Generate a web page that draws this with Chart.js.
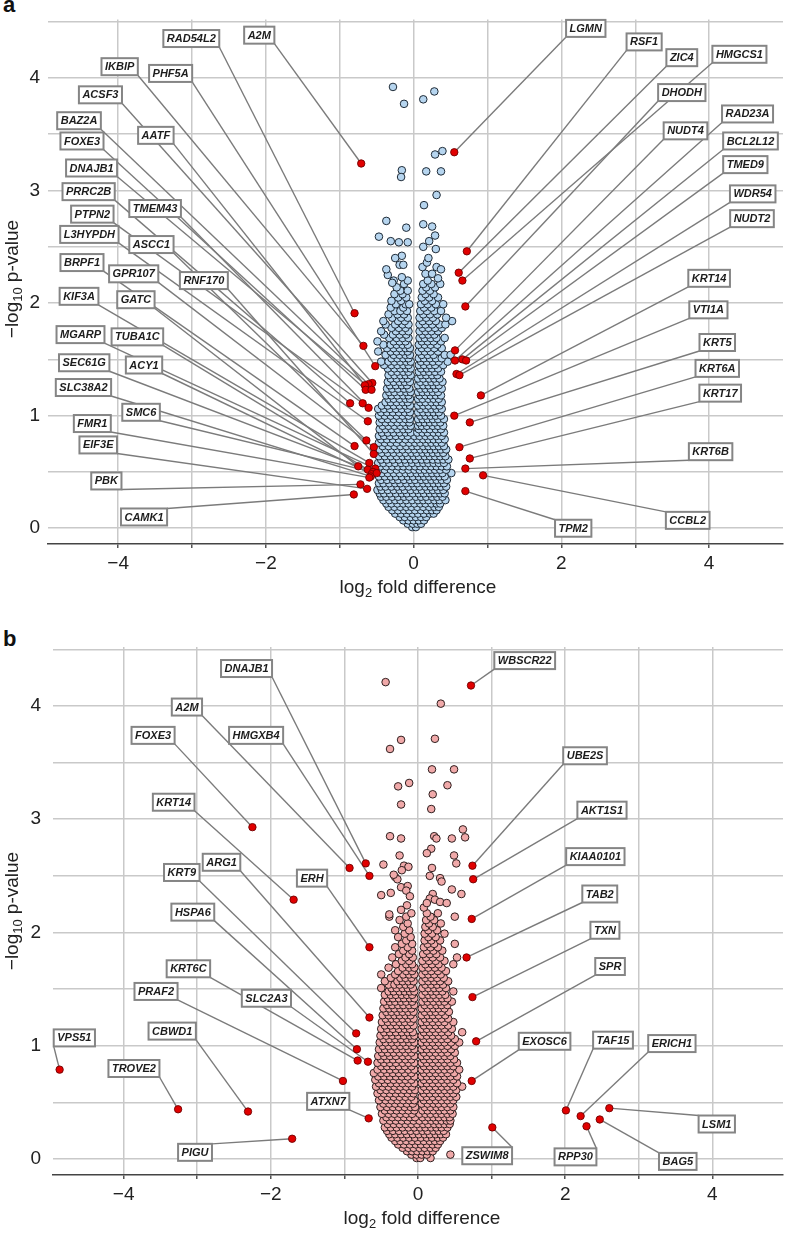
<!DOCTYPE html>
<html>
<head>
<meta charset="utf-8">
<script src="https://cdn.jsdelivr.net/npm/chart.js@4.4.1/dist/chart.umd.min.js"></script>
<style>
  body { margin: 0; background: #fff; width: 788px; height: 1233px; position: relative; overflow: hidden;
         font-family: "Liberation Sans", Arial, sans-serif; color: #222; }
  .panel { position: absolute; left: 0; }
  .tag { position: absolute; left: 3px; font-weight: bold; font-size: 22px; line-height: 22px; color: #111; }
  .xt { position: absolute; width: 220px; text-align: center; font-size: 19px; line-height: 19px; white-space: nowrap; }
  .yt { position: absolute; width: 220px; height: 20px; text-align: center; font-size: 19px; line-height: 20px;
        white-space: nowrap; transform: rotate(-90deg); }
  sub { font-size: 0.68em; vertical-align: -0.3em; line-height: 0; }
</style>
</head>
<body>
<div class="tag" style="top:-6px">a</div>
<div class="tag" style="top:628px">b</div>
<div class="panel" style="top:0"><canvas id="volA" width="788" height="600"></canvas></div>
<div class="panel" style="top:620px"><canvas id="volB" width="788" height="613"></canvas></div>
<div class="yt" style="left:-98px;top:269px">&minus;log<sub>10</sub> p-value</div>
<div class="yt" style="left:-98px;top:901px">&minus;log<sub>10</sub> p-value</div>
<div class="xt" style="left:308px;top:577px">log<sub>2</sub> fold difference</div>
<div class="xt" style="left:312px;top:1208px">log<sub>2</sub> fold difference</div>
<script>
// axis ticks
const xTicks = [-4, -3, -2, -1, 0, 1, 2, 3, 4];
const yTicks = [0, 0.5, 1, 1.5, 2, 2.5, 3, 3.5, 4, 4.5];

// ---- panel a: labelled genes (log2 fold, -log10 p) and where their boxes sit
const namesA = ['A2M','RAD54L2','IKBIP','PHF5A','ACSF3','BAZ2A','AATF','FOXE3','DNAJB1','PRRC2B',
  'TMEM43','PTPN2','L3HYPDH','ASCC1','BRPF1','GPR107','RNF170','KIF3A','GATC','MGARP',
  'TUBA1C','SEC61G','ACY1','SLC38A2','SMC6','FMR1','EIF3E','PBK','CAMK1',
  'LGMN','RSF1','ZIC4','HMGCS1','DHODH','NUDT4','RAD23A','BCL2L12','TMED9','WDR54',
  'NUDT2','KRT14','VTI1A','KRT5','KRT6A','KRT17','KRT6B','CCBL2','TPM2'];
const fcA = [-0.71,-0.80,-0.68,-0.52,-0.56,-0.61,-0.66,-0.65,-0.57,-0.86,
  -0.61,-0.69,-0.62,-0.64,-0.80,-0.54,-0.54,-0.60,-0.75,-0.52,
  -0.62,-0.55,-0.57,-0.58,-0.50,-0.60,-0.63,-0.72,-0.81,
  0.55,0.72,0.61,0.66,0.70,0.56,0.56,0.66,0.71,0.58,
  0.62,0.91,0.55,0.76,0.62,0.76,0.70,0.94,0.70];
const pvA = [3.24,1.91,1.62,1.44,1.29,1.28,1.27,1.23,1.23,1.11,
  1.07,1.11,0.95,0.78,0.73,0.72,0.66,0.58,0.55,0.53,
  0.52,0.50,0.48,0.46,0.49,0.45,0.35,0.39,0.30,
  3.34,2.46,2.27,2.20,1.97,1.58,1.49,1.50,1.49,1.37,
  1.36,1.18,1.00,0.94,0.72,0.62,0.53,0.47,0.33];
const boxXA = [-2.09,-3.01,-3.98,-3.29,-4.24,-4.53,-3.49,-4.49,-4.36,-4.40,
  -3.50,-4.35,-4.39,-3.55,-4.49,-3.79,-2.84,-4.53,-3.76,-4.51,
  -3.74,-4.46,-3.65,-4.47,-3.69,-4.35,-4.27,-4.16,-3.65,
  2.33,3.12,3.63,4.41,3.63,3.68,4.52,4.56,4.49,4.59,
  4.58,4.00,3.99,4.11,4.11,4.15,4.02,3.71,2.16];
const boxYA = [4.38,4.35,4.10,4.04,3.85,3.62,3.49,3.44,3.20,2.99,
  2.84,2.79,2.61,2.52,2.36,2.26,2.20,2.06,2.03,1.72,
  1.70,1.47,1.45,1.25,1.03,0.93,0.74,0.42,0.10,
  4.44,4.32,4.18,4.21,3.87,3.53,3.68,3.44,3.23,2.97,
  2.75,2.22,1.94,1.65,1.42,1.20,0.68,0.07,0.00];

// panel a: all other proteins, one row per -log10 p level: [y, x, x, ...]
const cloudA = [
  [0.01, -0.02, 0.03],
  [0.04, -0.08, -0.01, 0.05, 0.10],
  [0.07, -0.14, -0.07, 0.00, 0.07, 0.14],
  [0.10, -0.19, -0.12, -0.04, 0.03, 0.10, 0.17],
  [0.13, -0.25, -0.17, -0.09, -0.01, 0.06, 0.14, 0.22, 0.27],
  [0.16, -0.29, -0.21, -0.13, -0.06, 0.02, 0.10, 0.18, 0.25, 0.31],
  [0.19, -0.34, -0.26, -0.18, -0.10, -0.03, 0.05, 0.13, 0.21, 0.28, 0.34],
  [0.22, -0.37, -0.30, -0.22, -0.14, -0.07, 0.01, 0.09, 0.16, 0.24, 0.31, 0.36],
  [0.25, -0.41, -0.33, -0.25, -0.18, -0.10, -0.02, 0.06, 0.13, 0.20, 0.28, 0.35, 0.43],
  [0.28, -0.44, -0.37, -0.29, -0.21, -0.13, -0.06, 0.03, 0.10, 0.17, 0.25, 0.32, 0.39],
  [0.31, -0.46, -0.40, -0.32, -0.24, -0.16, -0.09, -0.01, 0.07, 0.14, 0.22, 0.29, 0.36, 0.42],
  [0.34, -0.49, -0.43, -0.35, -0.27, -0.19, -0.12, -0.04, 0.04, 0.11, 0.19, 0.26, 0.33, 0.40],
  [0.37, -0.45, -0.38, -0.30, -0.22, -0.15, -0.07, 0.01, 0.08, 0.16, 0.23, 0.30, 0.37, 0.44],
  [0.40, -0.47, -0.41, -0.33, -0.25, -0.18, -0.10, -0.02, 0.05, 0.13, 0.20, 0.27, 0.34, 0.41],
  [0.43, -0.44, -0.36, -0.28, -0.21, -0.13, -0.05, 0.02, 0.10, 0.17, 0.24, 0.31, 0.38, 0.45],
  [0.46, -0.47, -0.39, -0.31, -0.24, -0.16, -0.08, -0.01, 0.07, 0.14, 0.21, 0.28, 0.35, 0.42],
  [0.49, -0.43, -0.35, -0.27, -0.19, -0.11, -0.04, 0.04, 0.11, 0.18, 0.25, 0.32, 0.39, 0.51],
  [0.52, -0.47, -0.39, -0.31, -0.23, -0.15, -0.07, 0.01, 0.08, 0.15, 0.22, 0.29, 0.36, 0.44],
  [0.55, -0.45, -0.37, -0.29, -0.21, -0.14, -0.06, 0.02, 0.09, 0.17, 0.24, 0.31, 0.38, 0.45],
  [0.58, -0.48, -0.41, -0.33, -0.25, -0.17, -0.10, -0.02, 0.06, 0.13, 0.20, 0.27, 0.34, 0.41],
  [0.61, -0.44, -0.36, -0.28, -0.20, -0.12, -0.04, 0.03, 0.11, 0.18, 0.26, 0.33, 0.40, 0.47],
  [0.64, -0.47, -0.39, -0.31, -0.23, -0.15, -0.08, 0.00, 0.07, 0.15, 0.22, 0.29, 0.36, 0.43],
  [0.67, -0.43, -0.35, -0.27, -0.19, -0.11, -0.03, 0.04, 0.12, 0.19, 0.26, 0.33, 0.40],
  [0.70, -0.46, -0.38, -0.30, -0.22, -0.15, -0.07, 0.01, 0.09, 0.16, 0.23, 0.30, 0.37, 0.44],
  [0.73, -0.42, -0.34, -0.26, -0.18, -0.10, -0.02, 0.05, 0.13, 0.20, 0.27, 0.34, 0.41],
  [0.76, -0.47, -0.39, -0.31, -0.23, -0.14, -0.06, 0.02, 0.09, 0.17, 0.24, 0.31, 0.38],
  [0.79, -0.44, -0.36, -0.28, -0.20, -0.11, -0.03, 0.05, 0.13, 0.20, 0.27, 0.34, 0.42],
  [0.82, -0.47, -0.40, -0.32, -0.24, -0.16, -0.08, 0.01, 0.08, 0.16, 0.23, 0.31, 0.38],
  [0.85, -0.43, -0.35, -0.27, -0.19, -0.11, -0.04, 0.05, 0.12, 0.19, 0.27, 0.34, 0.41],
  [0.88, -0.46, -0.38, -0.30, -0.22, -0.14, -0.07, 0.07, 0.15, 0.22, 0.30, 0.37],
  [0.91, -0.42, -0.34, -0.26, -0.18, -0.10, -0.04, 0.06, 0.11, 0.18, 0.26, 0.33, 0.40],
  [0.94, -0.46, -0.38, -0.30, -0.22, -0.14, -0.06, 0.08, 0.15, 0.22, 0.29, 0.36],
  [0.97, -0.43, -0.35, -0.27, -0.19, -0.11, -0.05, 0.06, 0.12, 0.19, 0.26, 0.33, 0.41],
  [1.00, -0.47, -0.39, -0.31, -0.23, -0.15, -0.07, 0.09, 0.16, 0.23, 0.30, 0.37],
  [1.03, -0.44, -0.36, -0.28, -0.20, -0.12, -0.05, 0.06, 0.13, 0.20, 0.27, 0.34],
  [1.06, -0.48, -0.40, -0.32, -0.24, -0.16, -0.08, 0.09, 0.17, 0.24, 0.31, 0.38],
  [1.09, -0.43, -0.35, -0.27, -0.19, -0.11, -0.05, 0.06, 0.13, 0.20, 0.28, 0.35],
  [1.12, -0.38, -0.31, -0.23, -0.15, -0.08, 0.09, 0.16, 0.24, 0.31, 0.38],
  [1.15, -0.34, -0.27, -0.19, -0.11, -0.05, 0.06, 0.12, 0.20, 0.27, 0.34],
  [1.18, -0.37, -0.30, -0.22, -0.14, -0.07, 0.08, 0.16, 0.23, 0.30, 0.37],
  [1.21, -0.33, -0.26, -0.18, -0.10, -0.04, 0.06, 0.12, 0.19, 0.26, 0.33],
  [1.24, -0.36, -0.29, -0.21, -0.13, -0.06, 0.09, 0.16, 0.23, 0.30, 0.38],
  [1.27, -0.32, -0.24, -0.16, -0.09, 0.06, 0.13, 0.20, 0.27, 0.34],
  [1.30, -0.35, -0.27, -0.19, -0.12, -0.05, 0.09, 0.17, 0.24, 0.31, 0.39],
  [1.33, -0.31, -0.23, -0.15, -0.08, 0.06, 0.13, 0.21, 0.28, 0.35],
  [1.36, -0.34, -0.26, -0.18, -0.11, -0.04, 0.10, 0.17, 0.25, 0.32],
  [1.39, -0.30, -0.22, -0.14, -0.07, 0.07, 0.14, 0.21, 0.29, 0.37],
  [1.42, -0.35, -0.26, -0.18, -0.10, -0.04, 0.10, 0.18, 0.25, 0.33],
  [1.45, -0.40, -0.30, -0.22, -0.14, -0.07, 0.07, 0.14, 0.22, 0.29, 0.40],
  [1.48, -0.44, -0.34, -0.26, -0.18, -0.10, -0.04, 0.10, 0.18, 0.26, 0.34, 0.46],
  [1.51, -0.30, -0.22, -0.14, -0.07, 0.07, 0.14, 0.22, 0.30, 0.38],
  [1.54, -0.38, -0.27, -0.19, -0.11, -0.05, 0.11, 0.19, 0.27, 0.42, 0.50],
  [1.57, -0.48, -0.31, -0.23, -0.15, -0.08, 0.07, 0.15, 0.23, 0.33],
  [1.60, -0.36, -0.27, -0.19, -0.11, -0.05, 0.11, 0.19, 0.28, 0.38],
  [1.63, -0.41, -0.31, -0.23, -0.15, -0.08, 0.07, 0.15, 0.23, 0.32],
  [1.66, -0.49, -0.27, -0.19, -0.11, 0.11, 0.19, 0.27, 0.37],
  [1.69, -0.33, -0.23, -0.15, -0.07, 0.08, 0.15, 0.23, 0.31, 0.42],
  [1.72, -0.40, -0.28, -0.19, -0.10, 0.12, 0.20, 0.28],
  [1.75, -0.44, -0.24, -0.15, -0.07, 0.08, 0.16, 0.24, 0.33],
  [1.78, -0.30, -0.20, -0.11, 0.12, 0.20, 0.29, 0.38],
  [1.81, -0.38, -0.25, -0.15, -0.07, 0.08, 0.16, 0.25, 0.35, 0.43],
  [1.84, -0.41, -0.21, -0.12, 0.12, 0.21, 0.30, 0.52],
  [1.87, -0.29, -0.17, -0.08, 0.08, 0.17, 0.26, 0.44],
  [1.90, -0.34, -0.22, -0.13, 0.13, 0.22, 0.32],
  [1.93, -0.26, -0.18, -0.09, 0.09, 0.18, 0.28, 0.37],
  [1.96, -0.31, -0.14, 0.14, 0.24],
  [1.99, -0.24, -0.11, -0.06, 0.10, 0.19, 0.30, 0.40],
  [2.02, -0.30, -0.17, 0.15, 0.25],
  [2.05, -0.21, -0.10, 0.11, 0.21, 0.33],
  [2.08, -0.26, -0.15, 0.16, 0.27],
  [2.11, -0.18, -0.08, 0.12, 0.22],
  [2.14, -0.23, 0.17, 0.29],
  [2.17, -0.13, 0.13, 0.24, 0.36],
  [2.20, -0.27, -0.08, 0.19]
];
const sparseA = [[-0.35,2.25],[-0.16,2.23],[-0.29,2.18],[-0.19,2.34],[-0.14,2.34],[-0.37,2.30],
  [-0.16,2.42],[0.12,2.32],[0.18,2.36],[0.31,2.32],[0.37,2.30],[0.16,2.26],[0.25,2.26],[0.30,2.48],
  [0.13,2.50],[0.21,2.55],[0.29,2.60],[0.25,2.68],[0.13,2.70],[-0.47,2.59],[-0.31,2.55],[-0.20,2.54],
  [-0.08,2.54],[-0.10,2.67],[-0.37,2.73],[0.14,2.87],[0.31,2.96],[-0.16,3.18],[-0.17,3.12],[0.17,3.17],
  [0.37,3.17],[0.29,3.32],[0.39,3.35],[-0.28,3.92],[-0.13,3.77],[0.13,3.81],[0.28,3.88],[0.20,2.40],
  [-0.25,2.40],[0.33,2.22]];

// ---- panel b
const namesB = ['DNAJB1','A2M','FOXE3','HMGXB4','KRT14','ARG1','KRT9','ERH','HSPA6','KRT6C',
  'PRAF2','SLC2A3','VPS51','CBWD1','TROVE2','ATXN7','PIGU',
  'WBSCR22','UBE2S','AKT1S1','KIAA0101','TAB2','TXN','SPR','EXOSC6',
  'TAF15','ERICH1','LSM1','BAG5','RPP30','ZSWIM8'];
const fcB = [-0.71,-0.93,-2.25,-0.66,-1.69,-0.66,-0.84,-0.66,-0.83,-0.82,
  -1.02,-0.68,-4.87,-2.31,-3.26,-0.67,-1.71,
  0.72,0.74,0.75,0.73,0.66,0.74,0.79,0.73,
  2.01,2.21,2.60,2.47,2.29,1.01];
const pvB = [2.61,2.57,2.93,2.50,2.29,1.25,1.11,1.87,0.97,0.87,
  0.69,0.86,0.79,0.42,0.44,0.36,0.18,
  4.18,2.59,2.47,2.12,1.78,1.43,1.04,0.69,
  0.43,0.38,0.45,0.35,0.29,0.28];
const boxXB = [-2.33,-3.14,-3.60,-2.20,-3.32,-2.67,-3.21,-1.44,-3.06,-3.12,
  -3.56,-2.06,-4.67,-3.34,-3.86,-1.22,-3.03,
  1.45,2.27,2.50,2.41,2.47,2.54,2.61,1.72,
  2.65,3.45,4.06,3.53,2.14,0.94];
const boxYB = [4.33,3.99,3.74,3.74,3.15,2.62,2.53,2.48,2.18,1.68,
  1.48,1.42,1.07,1.13,0.80,0.51,0.06,
  4.40,3.56,3.08,2.67,2.34,2.02,1.70,1.04,
  1.05,1.02,0.31,-0.02,0.02,0.03];

const cloudB = [
  [0.01, -0.02, 0.03, 0.17],
  [0.04, -0.09, -0.02, 0.05, 0.12, 0.44],
  [0.07, -0.15, -0.08, -0.01, 0.06, 0.13, 0.20],
  [0.10, -0.21, -0.13, -0.06, 0.02, 0.09, 0.17, 0.24],
  [0.13, -0.27, -0.19, -0.11, -0.03, 0.04, 0.12, 0.20, 0.27],
  [0.16, -0.31, -0.24, -0.16, -0.08, 0.00, 0.08, 0.16, 0.23, 0.30],
  [0.19, -0.36, -0.28, -0.20, -0.12, -0.04, 0.04, 0.12, 0.19, 0.27, 0.34],
  [0.22, -0.39, -0.31, -0.23, -0.15, -0.07, 0.01, 0.09, 0.16, 0.24, 0.31, 0.38],
  [0.25, -0.42, -0.34, -0.26, -0.18, -0.10, -0.02, 0.06, 0.13, 0.21, 0.28, 0.35],
  [0.28, -0.45, -0.37, -0.29, -0.21, -0.13, -0.05, 0.03, 0.10, 0.18, 0.25, 0.32, 0.40],
  [0.31, -0.41, -0.33, -0.25, -0.17, -0.09, -0.01, 0.07, 0.14, 0.22, 0.29, 0.36, 0.43],
  [0.34, -0.47, -0.38, -0.30, -0.22, -0.14, -0.06, 0.02, 0.10, 0.18, 0.25, 0.32, 0.39, 0.44],
  [0.37, -0.43, -0.35, -0.27, -0.19, -0.11, -0.04, 0.06, 0.14, 0.21, 0.28, 0.36, 0.43],
  [0.40, -0.49, -0.40, -0.32, -0.24, -0.16, -0.08, 0.02, 0.10, 0.17, 0.25, 0.32, 0.40, 0.47],
  [0.43, -0.45, -0.37, -0.29, -0.21, -0.13, -0.05, 0.06, 0.13, 0.21, 0.29, 0.36, 0.44],
  [0.46, -0.51, -0.42, -0.34, -0.26, -0.18, -0.10, -0.04, 0.09, 0.17, 0.25, 0.32, 0.40, 0.48],
  [0.49, -0.47, -0.39, -0.31, -0.23, -0.15, -0.07, 0.05, 0.13, 0.21, 0.28, 0.36, 0.44],
  [0.52, -0.53, -0.44, -0.36, -0.28, -0.20, -0.12, -0.05, 0.08, 0.16, 0.24, 0.32, 0.40, 0.48],
  [0.55, -0.49, -0.41, -0.33, -0.25, -0.17, -0.09, 0.05, 0.12, 0.20, 0.28, 0.36, 0.44, 0.52],
  [0.58, -0.55, -0.46, -0.38, -0.30, -0.22, -0.14, -0.06, 0.08, 0.16, 0.24, 0.32, 0.40, 0.48],
  [0.61, -0.51, -0.43, -0.35, -0.27, -0.19, -0.11, -0.04, 0.05, 0.12, 0.20, 0.28, 0.36, 0.44, 0.52],
  [0.64, -0.57, -0.48, -0.40, -0.32, -0.24, -0.16, -0.08, 0.08, 0.16, 0.24, 0.32, 0.40, 0.48, 0.60],
  [0.67, -0.53, -0.45, -0.37, -0.29, -0.21, -0.13, -0.05, 0.05, 0.12, 0.20, 0.28, 0.36, 0.44, 0.53],
  [0.70, -0.58, -0.49, -0.41, -0.33, -0.25, -0.17, -0.09, 0.08, 0.16, 0.24, 0.32, 0.40, 0.48],
  [0.73, -0.54, -0.46, -0.38, -0.30, -0.22, -0.14, -0.05, 0.05, 0.12, 0.20, 0.28, 0.36, 0.44, 0.53],
  [0.76, -0.60, -0.50, -0.42, -0.34, -0.26, -0.18, -0.09, 0.08, 0.16, 0.24, 0.32, 0.40, 0.49],
  [0.79, -0.55, -0.46, -0.38, -0.30, -0.22, -0.13, -0.05, 0.05, 0.12, 0.20, 0.28, 0.36, 0.44, 0.56],
  [0.82, -0.50, -0.42, -0.34, -0.26, -0.18, -0.09, 0.08, 0.16, 0.24, 0.32, 0.40, 0.48],
  [0.85, -0.55, -0.46, -0.38, -0.30, -0.21, -0.13, -0.05, 0.05, 0.12, 0.20, 0.28, 0.36, 0.44, 0.53],
  [0.88, -0.50, -0.42, -0.34, -0.26, -0.17, -0.09, 0.08, 0.16, 0.24, 0.32, 0.40, 0.49],
  [0.91, -0.54, -0.46, -0.38, -0.30, -0.21, -0.13, -0.05, 0.05, 0.12, 0.20, 0.28, 0.36, 0.44],
  [0.94, -0.49, -0.41, -0.33, -0.25, -0.17, -0.09, 0.08, 0.16, 0.24, 0.32, 0.40, 0.50],
  [0.97, -0.53, -0.45, -0.37, -0.29, -0.21, -0.13, -0.05, 0.05, 0.12, 0.20, 0.28, 0.36, 0.45],
  [1.00, -0.48, -0.40, -0.32, -0.24, -0.16, -0.08, 0.08, 0.16, 0.24, 0.32, 0.40, 0.50],
  [1.03, -0.52, -0.44, -0.36, -0.28, -0.20, -0.12, -0.05, 0.05, 0.12, 0.20, 0.28, 0.36, 0.45, 0.56],
  [1.06, -0.47, -0.39, -0.31, -0.23, -0.15, -0.08, 0.08, 0.16, 0.24, 0.32, 0.40, 0.50],
  [1.09, -0.51, -0.43, -0.35, -0.27, -0.19, -0.11, -0.05, 0.05, 0.12, 0.20, 0.28, 0.36, 0.45],
  [1.12, -0.46, -0.38, -0.30, -0.22, -0.14, -0.07, 0.08, 0.16, 0.24, 0.32, 0.41, 0.60],
  [1.15, -0.50, -0.42, -0.34, -0.26, -0.18, -0.11, 0.05, 0.12, 0.20, 0.28, 0.36, 0.46],
  [1.18, -0.45, -0.37, -0.29, -0.21, -0.14, -0.06, 0.08, 0.16, 0.24, 0.32, 0.41],
  [1.21, -0.49, -0.41, -0.33, -0.25, -0.18, -0.10, 0.05, 0.12, 0.20, 0.28, 0.36, 0.48],
  [1.24, -0.44, -0.36, -0.29, -0.21, -0.13, -0.06, 0.09, 0.16, 0.24, 0.32, 0.41],
  [1.27, -0.48, -0.40, -0.32, -0.25, -0.17, -0.10, 0.05, 0.13, 0.20, 0.28, 0.37],
  [1.30, -0.43, -0.36, -0.28, -0.21, -0.13, -0.06, 0.09, 0.17, 0.24, 0.32, 0.42],
  [1.33, -0.47, -0.39, -0.32, -0.24, -0.17, -0.09, 0.05, 0.13, 0.21, 0.28, 0.36],
  [1.36, -0.42, -0.35, -0.27, -0.20, -0.12, -0.05, 0.09, 0.17, 0.25, 0.32, 0.40],
  [1.39, -0.46, -0.38, -0.31, -0.23, -0.16, -0.08, 0.06, 0.13, 0.21, 0.29, 0.36, 0.46],
  [1.42, -0.41, -0.34, -0.26, -0.19, -0.11, -0.05, 0.10, 0.17, 0.25, 0.33, 0.40],
  [1.45, -0.45, -0.37, -0.30, -0.22, -0.15, -0.08, 0.06, 0.14, 0.21, 0.29, 0.37],
  [1.48, -0.40, -0.33, -0.25, -0.18, -0.11, -0.05, 0.10, 0.18, 0.25, 0.33, 0.48],
  [1.51, -0.50, -0.36, -0.29, -0.21, -0.14, -0.07, 0.06, 0.14, 0.22, 0.29, 0.38],
  [1.54, -0.40, -0.32, -0.25, -0.17, -0.10, 0.10, 0.18, 0.26, 0.34],
  [1.57, -0.45, -0.28, -0.21, -0.13, -0.06, 0.06, 0.14, 0.22, 0.30, 0.41],
  [1.60, -0.37, -0.24, -0.17, -0.09, 0.10, 0.18, 0.26, 0.35],
  [1.63, -0.50, -0.31, -0.20, -0.12, -0.05, 0.06, 0.14, 0.22, 0.31],
  [1.66, -0.27, -0.16, -0.08, 0.10, 0.18, 0.27, 0.38],
  [1.69, -0.40, -0.21, -0.12, -0.05, 0.06, 0.14, 0.23, 0.32],
  [1.72, -0.30, -0.16, -0.08, 0.10, 0.19, 0.28, 0.48],
  [1.75, -0.22, -0.12, 0.06, 0.15, 0.24, 0.36],
  [1.78, -0.35, -0.17, -0.07, 0.11, 0.20, 0.30, 0.53],
  [1.81, -0.26, -0.12, 0.07, 0.16, 0.25],
  [1.84, -0.20, -0.08, 0.12, 0.21, 0.33],
  [1.87, -0.31, -0.14, 0.08, 0.17, 0.27],
  [1.90, -0.22, -0.08, 0.13, 0.22, 0.50],
  [1.93, -0.16, 0.09, 0.18, 0.30],
  [1.96, -0.27, -0.10, 0.14, 0.24],
  [1.99, -0.18, 0.09, 0.19, 0.36],
  [2.02, -0.31, -0.12, 0.14, 0.26],
  [2.05, -0.20, 0.10, 0.20],
  [2.08, -0.14, 0.15, 0.31],
  [2.11, -0.25, 0.11, 0.22],
  [2.14, -0.39, -0.16, 0.17, 0.50],
  [2.17, -0.09, 0.12, 0.27]
];
const sparseB = [[-0.44,4.21],[0.31,4.02],[-0.23,3.70],[-0.38,3.62],[0.23,3.71],[0.19,3.44],[0.49,3.44],
  [-0.27,3.29],[-0.12,3.32],[0.40,3.30],[0.20,3.22],[-0.23,3.13],[0.18,3.09],[-0.38,2.85],[-0.23,2.83],
  [0.22,2.85],[0.25,2.83],[0.46,2.83],[0.61,2.91],[0.64,2.84],[0.18,2.74],[0.12,2.70],[-0.25,2.68],
  [0.49,2.68],[0.52,2.61],[-0.19,2.59],[-0.13,2.58],[-0.22,2.55],[0.19,2.57],[-0.31,2.49],[-0.28,2.47],
  [0.16,2.50],[0.30,2.48],[0.32,2.45],[0.46,2.38],[0.59,2.34],[-0.37,2.35],[-0.23,2.40],[-0.14,2.41],
  [-0.16,2.37],[-0.11,2.32],[-0.47,2.60],[-0.33,2.51],[-0.50,2.33],[-0.39,2.16],[0.20,2.34],[0.16,2.30],
  [0.23,2.29],[0.30,2.27],[0.39,2.26],[-0.15,2.24],[-0.23,2.20],[0.08,2.22],[0.12,2.26]];

const FONT = '"Liberation Sans", Arial, sans-serif';
const LABEL_FONT = 'italic bold 11px "Liberation Sans", Arial, sans-serif';

function rowsToPoints(rows, extra) {
  const pts = [];
  rows.forEach(r => { for (let i = 1; i < r.length; i++) pts.push({ x: r[i], y: r[0] }); });
  extra.forEach(p => pts.push({ x: p[0], y: p[1] }));
  return pts;
}

function boxFor(ctx, text, cx, cy) {
  const w = ctx.measureText(text).width + 7, h = 17;
  return { l: cx - w / 2, r: cx + w / 2, t: cy - h / 2, b: cy + h / 2, w, h };
}

// leader lines under the points, label boxes on top
function callouts(names, fx, fy, bx, by) {
  return {
    id: 'callouts',
    beforeDatasetsDraw(chart) {
      const { ctx } = chart, sx = chart.scales.x, sy = chart.scales.y;
      ctx.save();
      ctx.font = LABEL_FONT;
      ctx.strokeStyle = '#7b7b7b';
      ctx.lineWidth = 1.4;
      names.forEach((n, i) => {
        const b = boxFor(ctx, n, sx.getPixelForValue(bx[i]), sy.getPixelForValue(by[i]));
        const px = sx.getPixelForValue(fx[i]), py = sy.getPixelForValue(fy[i]);
        const cx = Math.abs(px - b.l) < Math.abs(px - b.r) ? b.l : b.r;
        const cy = Math.abs(py - b.t) < Math.abs(py - b.b) ? b.t : b.b;
        ctx.beginPath();
        ctx.moveTo(cx, cy);
        ctx.lineTo(px, py);
        ctx.stroke();
      });
      ctx.restore();
    },
    afterDatasetsDraw(chart) {
      const { ctx } = chart, sx = chart.scales.x, sy = chart.scales.y;
      ctx.save();
      ctx.font = LABEL_FONT;
      ctx.textAlign = 'center';
      ctx.textBaseline = 'middle';
      names.forEach((n, i) => {
        const cx = sx.getPixelForValue(bx[i]), cy = sy.getPixelForValue(by[i]);
        const b = boxFor(ctx, n, cx, cy);
        ctx.fillStyle = '#fff';
        ctx.fillRect(b.l, b.t, b.w, b.h);
        ctx.strokeStyle = '#858585';
        ctx.lineWidth = 2;
        ctx.strokeRect(b.l, b.t, b.w, b.h);
        ctx.fillStyle = '#1c1c1c';
        ctx.fillText(n, cx, cy + 0.5);
      });
      ctx.restore();
    }
  };
}

function volcano(id, cfg) {
  const reds = cfg.names.map((n, i) => ({ x: cfg.fc[i], y: cfg.pv[i] }));
  return new Chart(document.getElementById(id), {
    type: 'scatter',
    data: {
      datasets: [
        { data: reds, order: 0, pointRadius: 3.7, pointBackgroundColor: '#e10000',
          pointBorderColor: '#700000', pointBorderWidth: 0.9 },
        { data: rowsToPoints(cfg.cloud, cfg.sparse), order: 1, pointRadius: 3.8,
          pointBackgroundColor: cfg.fill, pointBorderColor: cfg.edge, pointBorderWidth: 1 }
      ]
    },
    options: {
      responsive: false,
      animation: false,
      devicePixelRatio: 1,
      events: [],
      layout: { padding: { top: cfg.padTop, right: 0, bottom: 0, left: 0 } },
      plugins: { legend: { display: false }, tooltip: { enabled: false } },
      scales: {
        x: {
          type: 'linear', min: cfg.xmin, max: cfg.xmax,
          afterBuildTicks: s => { s.ticks = xTicks.map(v => ({ value: v })); },
          afterFit: s => { s.height = cfg.xAxisH; },
          ticks: {
            autoSkip: false, maxRotation: 0, padding: 4, color: '#222',
            font: { family: FONT, size: 19 },
            callback: v => (v % 2 === 0 ? (v < 0 ? '\u2212' + (-v) : String(v)) : '')
          },
          grid: { color: '#c9c9c9', lineWidth: 1.5, tickColor: '#555', tickLength: 4, drawTicks: true },
          border: { display: true, color: '#444', width: 1.5 }
        },
        y: {
          type: 'linear', min: -0.14, max: 4.52,
          afterBuildTicks: s => { s.ticks = yTicks.map(v => ({ value: v })); },
          afterFit: s => { s.width = cfg.yAxisW; },
          ticks: {
            padding: cfg.yPad, color: '#222', font: { family: FONT, size: 19 },
            callback: v => (Number.isInteger(v) ? String(v) : '')
          },
          grid: { color: '#c9c9c9', lineWidth: 1.5, drawTicks: false },
          border: { display: false }
        }
      }
    },
    plugins: [callouts(cfg.names, cfg.fc, cfg.pv, cfg.bx, cfg.by)]
  });
}

volcano('volA', {
  names: namesA, fc: fcA, pv: pvA, bx: boxXA, by: boxYA,
  cloud: cloudA, sparse: sparseA, fill: '#b6d5ef', edge: '#1e2a36',
  xmin: -4.95, xmax: 5.0, padTop: 13, xAxisH: 56, yAxisW: 48, yPad: 8
});
volcano('volB', {
  names: namesB, fc: fcB, pv: pvB, bx: boxXB, by: boxYB,
  cloud: cloudB, sparse: sparseB, fill: '#f0a9a9', edge: '#2e1e1e',
  xmin: -4.96, xmax: 4.96, padTop: 27, xAxisH: 58, yAxisW: 53, yPad: 12
});
</script>
</body>
</html>
